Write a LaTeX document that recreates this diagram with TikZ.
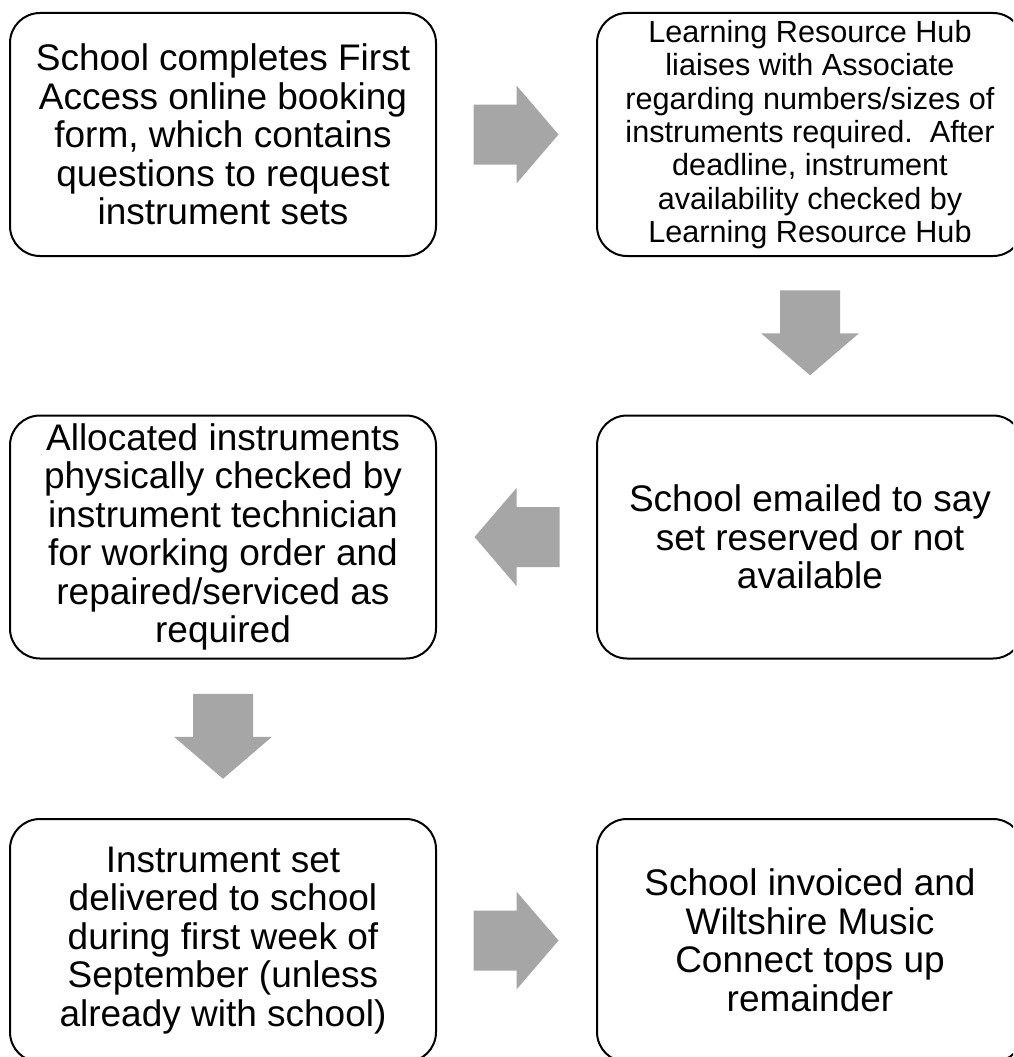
\documentclass[tikz,border=0pt]{standalone}
\usepackage{fontspec}
\setmainfont{Liberation Sans}
\usetikzlibrary{calc}
\begin{document}
\begin{tikzpicture}[x=1pt,y=-1pt,
  stepbox/.style={draw=black, line width=2pt, rounded corners=30pt, fill=white,
    minimum width=426pt, minimum height=243pt, inner sep=0pt, align=center,
    font=\fontsize{37}{38.5}\selectfont},
  smalltext/.style={font=\fontsize{30.6}{33.3}\selectfont},
  blockarrow/.pic={\fill[arrowgray] (-43,-30) -- (0,-30) -- (0,-49) -- (42,0) -- (0,49) -- (0,30) -- (-43,30) -- cycle;}
]
\definecolor{arrowgray}{HTML}{A6A6A6}
\useasboundingbox (0,0) rectangle (1013,1057);
\clip (0,0) rectangle (1013,1057);
\fill[white] (0,0) rectangle (1013,1057);

\node[stepbox] (b1) at (223,134.5) {School completes First\\Access online booking\\form, which contains\\questions to request\\instrument sets};
\node[stepbox, smalltext] (b2) at (810,134.5) {Learning Resource Hub\\liaises with Associate\\regarding numbers/sizes of\\instruments required.\ \ After\\deadline, instrument\\availability checked by\\Learning Resource Hub};
\node[stepbox] (b4) at (810,537) {School emailed to say\\set reserved or not\\available};
\node[stepbox] (b3) at (223,537) {Allocated instruments\\physically checked by\\instrument technician\\for working order and\\repaired/serviced as\\required};
\node[stepbox] (b5) at (223,940.5) {Instrument set\\delivered to school\\during first week of\\September (unless\\already with school)};
\node[stepbox] (b6) at (810,940.5) {School invoiced and\\Wiltshire Music\\Connect tops up\\remainder};

\coordinate (a12) at ($(b1.east)!0.5!(b2.west)$);
\coordinate (a24) at ($(b2.south)!0.5!(b4.north)+(0,-2.5)$);
\coordinate (a43) at ($(b4.west)!0.5!(b3.east)$);
\coordinate (a35) at ($(b3.south)!0.5!(b5.north)+(0,-2)$);
\coordinate (a56) at ($(b5.east)!0.5!(b6.west)$);

\pic at (a12) {blockarrow};
\pic[rotate=-90] at (a24) {blockarrow};
\pic[rotate=180] at (a43) {blockarrow};
\pic[rotate=-90] at (a35) {blockarrow};
\pic at (a56) {blockarrow};
\end{tikzpicture}
\end{document}
